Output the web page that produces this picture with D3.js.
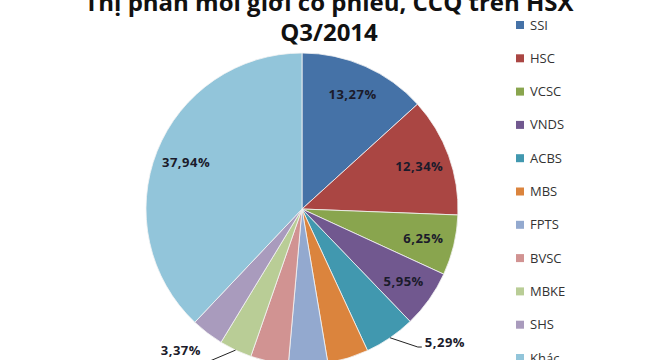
<!DOCTYPE html>
<html>
<head>
    <title>Thị phần môi giới cổ phiếu, CCQ trên HSX Q3/2014</title>
    <script src="https://d3js.org/d3.v7.min.js"></script>
    <style>
        body { margin: 0; background: #fff; }
        svg { display: block; }
    </style>
</head>
<body>
    <div id="chart"></div>

    <script>
        // Data
        const brokers = ["SSI", "HSC", "VCSC", "VNDS", "ACBS", "MBS", "FPTS", "BVSC", "MBKE", "SHS", "Khác"];
        const shares = [13.27, 12.34, 6.25, 5.95, 5.29, 4.25, 4.05, 3.92, 3.37, 3.37, 37.94];
        // labels that can be seen in the picture (others fall below the frame)
        const labelText = ["13,27%", "12,34%", "6,25%", "5,95%", "5,29%", null, null, null, "3,37%", null, "37,94%"];
        const titleLines = ["Thị phần môi giới cổ phiếu, CCQ trên HSX", "Q3/2014"];

        const config = {
            width: 660,
            height: 360,
            cx: 302,
            cy: 209,
            radius: 156,
            colors: ["#4572A7", "#AA4643", "#89A54E", "#71588F", "#4198AF", "#DB843D",
                     "#93A9CF", "#D19392", "#B9CD96", "#A99BBD", "#92C5DA"]
        };

        // where Excel put the outside labels: elbow of leader line (angle in deg, radius factor)
        const outsideLabels = {
            ACBS: { angle: 140, r: 1.155, anchor: "start", dx: 3, dy: 0 },
            MBKE: { angle: 211.6, r: 1.15, anchor: "end", dx: -3, dy: -7 }
        };

        const svg = d3.select("#chart")
            .append("svg")
            .attr("width", config.width)
            .attr("height", config.height);

        // Title
        svg.append("g")
            .selectAll("text")
            .data(titleLines)
            .enter()
            .append("text")
            .attr("x", 329)
            .attr("y", (d, i) => 11 + i * 30)
            .attr("text-anchor", "middle")
            .style("font-family", "'Open Sans', sans-serif")
            .style("font-weight", "bold")
            .style("font-size", "24px")
            .style("fill", "#111")
            .text(d => d);

        const color = d3.scaleOrdinal().domain(brokers).range(config.colors);

        const pie = d3.pie().sort(null).value(d => d.value);
        const arcs = pie(brokers.map((b, i) => ({ name: b, value: shares[i], label: labelText[i] })));

        const arc = d3.arc().innerRadius(0).outerRadius(config.radius);
        const labelArc = d3.arc().innerRadius(config.radius * 0.8).outerRadius(config.radius * 0.8);

        const g = svg.append("g")
            .attr("transform", `translate(${config.cx},${config.cy})`);

        g.selectAll("path")
            .data(arcs)
            .enter()
            .append("path")
            .attr("d", arc)
            .attr("fill", d => color(d.data.name))
            .attr("stroke", "#f4f4f4")
            .attr("stroke-width", 0.8);

        const polar = (angleRad, r) => [Math.sin(angleRad) * r, -Math.cos(angleRad) * r];

        const labelStyle = sel => sel
            .style("font-family", "'Open Sans', sans-serif")
            .style("font-weight", "bold")
            .style("font-size", "13px")
            .style("letter-spacing", "0.5px")
            .style("fill", "#1b1b2b");

        // inside labels
        g.selectAll(".inside")
            .data(arcs.filter(d => d.data.label && !outsideLabels[d.data.name]))
            .enter()
            .append("text")
            .attr("class", "inside")
            .attr("transform", d => `translate(${labelArc.centroid(d)})`)
            .attr("text-anchor", "middle")
            .attr("dy", "0.35em")
            .call(labelStyle)
            .text(d => d.data.label);

        // outside labels with leader lines
        arcs.filter(d => d.data.label && outsideLabels[d.data.name]).forEach(d => {
            const o = outsideLabels[d.data.name];
            const mid = (d.startAngle + d.endAngle) / 2;
            const p0 = polar(mid, config.radius);
            const p1 = polar(o.angle * Math.PI / 180, config.radius * o.r);
            const p2 = [p1[0] + (o.anchor === "start" ? 4 : -4), p1[1]];
            g.append("polyline")
                .attr("points", [p0, p1, p2].map(p => p.join(",")).join(" "))
                .attr("fill", "none")
                .attr("stroke", "#222")
                .attr("stroke-width", 1);
            g.append("text")
                .attr("x", p2[0] + o.dx)
                .attr("y", p2[1] + o.dy)
                .attr("text-anchor", o.anchor)
                .call(labelStyle)
                .text(d.data.label);
        });

        // Legend
        const legend = svg.append("g")
            .attr("transform", "translate(516,21)");

        const items = legend.selectAll("g")
            .data(brokers)
            .enter()
            .append("g")
            .attr("transform", (d, i) => `translate(0,${i * 33.3})`);

        items.append("rect")
            .attr("width", 8)
            .attr("height", 8)
            .attr("fill", d => color(d));

        items.append("text")
            .attr("x", 14)
            .attr("y", 8.5)
            .style("font-family", "'Open Sans', sans-serif")
            .style("font-size", "13px")
            .style("fill", "#333")
            .text(d => d);
    </script>
</body>
</html>
